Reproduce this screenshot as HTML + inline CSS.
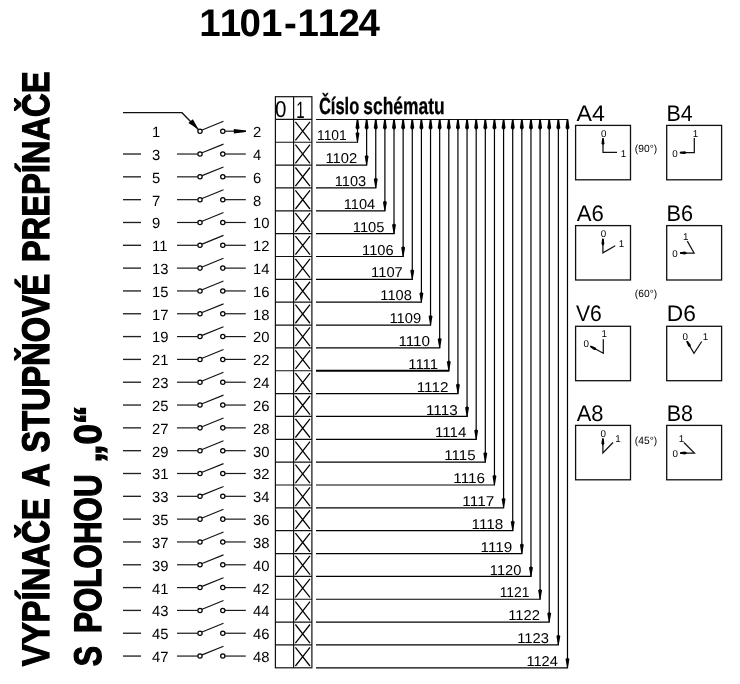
<!DOCTYPE html>
<html><head><meta charset="utf-8"><title>1101-1124</title>
<style>html,body{margin:0;padding:0;background:#fff;}body{width:740px;height:684px;overflow:hidden;}svg{display:block;will-change:transform;text-rendering:geometricPrecision;}</style>
</head><body>
<svg width="740" height="684" viewBox="0 0 740 684">
<rect width="740" height="684" fill="#fff"/>
<circle cx="200" cy="131.20" r="2.15" fill="#fff" stroke="#000" stroke-width="1.25"/>
<circle cx="222.8" cy="131.20" r="2.15" fill="#fff" stroke="#000" stroke-width="1.25"/>
<line x1="202.1" y1="130.00" x2="223.5" y2="121.30" stroke="#111" stroke-width="1.15"/>
<line x1="225" y1="131.20" x2="245.8" y2="131.20" stroke="#1a1a1a" stroke-width="1.2"/>
<text x="152" y="137.10" font-family="'Liberation Sans', sans-serif" font-size="14.8">1</text>
<text x="253" y="137.10" font-family="'Liberation Sans', sans-serif" font-size="14.8">2</text>
<line x1="123" y1="154.02" x2="141" y2="154.02" stroke="#222" stroke-width="1.35"/>
<line x1="177" y1="154.02" x2="197.7" y2="154.02" stroke="#1a1a1a" stroke-width="1.2"/>
<circle cx="200" cy="154.02" r="2.15" fill="#fff" stroke="#000" stroke-width="1.25"/>
<circle cx="222.8" cy="154.02" r="2.15" fill="#fff" stroke="#000" stroke-width="1.25"/>
<line x1="202.1" y1="152.82" x2="223.5" y2="144.12" stroke="#111" stroke-width="1.15"/>
<line x1="225" y1="154.02" x2="245.8" y2="154.02" stroke="#1a1a1a" stroke-width="1.2"/>
<text x="152" y="159.92" font-family="'Liberation Sans', sans-serif" font-size="14.8">3</text>
<text x="253" y="159.92" font-family="'Liberation Sans', sans-serif" font-size="14.8">4</text>
<line x1="123" y1="176.84" x2="141" y2="176.84" stroke="#222" stroke-width="1.35"/>
<line x1="177" y1="176.84" x2="197.7" y2="176.84" stroke="#1a1a1a" stroke-width="1.2"/>
<circle cx="200" cy="176.84" r="2.15" fill="#fff" stroke="#000" stroke-width="1.25"/>
<circle cx="222.8" cy="176.84" r="2.15" fill="#fff" stroke="#000" stroke-width="1.25"/>
<line x1="202.1" y1="175.64" x2="223.5" y2="166.94" stroke="#111" stroke-width="1.15"/>
<line x1="225" y1="176.84" x2="245.8" y2="176.84" stroke="#1a1a1a" stroke-width="1.2"/>
<text x="152" y="182.74" font-family="'Liberation Sans', sans-serif" font-size="14.8">5</text>
<text x="253" y="182.74" font-family="'Liberation Sans', sans-serif" font-size="14.8">6</text>
<line x1="123" y1="199.66" x2="141" y2="199.66" stroke="#222" stroke-width="1.35"/>
<line x1="177" y1="199.66" x2="197.7" y2="199.66" stroke="#1a1a1a" stroke-width="1.2"/>
<circle cx="200" cy="199.66" r="2.15" fill="#fff" stroke="#000" stroke-width="1.25"/>
<circle cx="222.8" cy="199.66" r="2.15" fill="#fff" stroke="#000" stroke-width="1.25"/>
<line x1="202.1" y1="198.46" x2="223.5" y2="189.76" stroke="#111" stroke-width="1.15"/>
<line x1="225" y1="199.66" x2="245.8" y2="199.66" stroke="#1a1a1a" stroke-width="1.2"/>
<text x="152" y="205.56" font-family="'Liberation Sans', sans-serif" font-size="14.8">7</text>
<text x="253" y="205.56" font-family="'Liberation Sans', sans-serif" font-size="14.8">8</text>
<line x1="123" y1="222.48" x2="141" y2="222.48" stroke="#222" stroke-width="1.35"/>
<line x1="177" y1="222.48" x2="197.7" y2="222.48" stroke="#1a1a1a" stroke-width="1.2"/>
<circle cx="200" cy="222.48" r="2.15" fill="#fff" stroke="#000" stroke-width="1.25"/>
<circle cx="222.8" cy="222.48" r="2.15" fill="#fff" stroke="#000" stroke-width="1.25"/>
<line x1="202.1" y1="221.28" x2="223.5" y2="212.58" stroke="#111" stroke-width="1.15"/>
<line x1="225" y1="222.48" x2="245.8" y2="222.48" stroke="#1a1a1a" stroke-width="1.2"/>
<text x="152" y="228.38" font-family="'Liberation Sans', sans-serif" font-size="14.8">9</text>
<text x="253" y="228.38" font-family="'Liberation Sans', sans-serif" font-size="14.8">10</text>
<line x1="123" y1="245.30" x2="141" y2="245.30" stroke="#222" stroke-width="1.35"/>
<line x1="177" y1="245.30" x2="197.7" y2="245.30" stroke="#1a1a1a" stroke-width="1.2"/>
<circle cx="200" cy="245.30" r="2.15" fill="#fff" stroke="#000" stroke-width="1.25"/>
<circle cx="222.8" cy="245.30" r="2.15" fill="#fff" stroke="#000" stroke-width="1.25"/>
<line x1="202.1" y1="244.10" x2="223.5" y2="235.40" stroke="#111" stroke-width="1.15"/>
<line x1="225" y1="245.30" x2="245.8" y2="245.30" stroke="#1a1a1a" stroke-width="1.2"/>
<text x="152" y="251.20" font-family="'Liberation Sans', sans-serif" font-size="14.8">11</text>
<text x="253" y="251.20" font-family="'Liberation Sans', sans-serif" font-size="14.8">12</text>
<line x1="123" y1="268.12" x2="141" y2="268.12" stroke="#222" stroke-width="1.35"/>
<line x1="177" y1="268.12" x2="197.7" y2="268.12" stroke="#1a1a1a" stroke-width="1.2"/>
<circle cx="200" cy="268.12" r="2.15" fill="#fff" stroke="#000" stroke-width="1.25"/>
<circle cx="222.8" cy="268.12" r="2.15" fill="#fff" stroke="#000" stroke-width="1.25"/>
<line x1="202.1" y1="266.92" x2="223.5" y2="258.22" stroke="#111" stroke-width="1.15"/>
<line x1="225" y1="268.12" x2="245.8" y2="268.12" stroke="#1a1a1a" stroke-width="1.2"/>
<text x="152" y="274.02" font-family="'Liberation Sans', sans-serif" font-size="14.8">13</text>
<text x="253" y="274.02" font-family="'Liberation Sans', sans-serif" font-size="14.8">14</text>
<line x1="123" y1="290.94" x2="141" y2="290.94" stroke="#222" stroke-width="1.35"/>
<line x1="177" y1="290.94" x2="197.7" y2="290.94" stroke="#1a1a1a" stroke-width="1.2"/>
<circle cx="200" cy="290.94" r="2.15" fill="#fff" stroke="#000" stroke-width="1.25"/>
<circle cx="222.8" cy="290.94" r="2.15" fill="#fff" stroke="#000" stroke-width="1.25"/>
<line x1="202.1" y1="289.74" x2="223.5" y2="281.04" stroke="#111" stroke-width="1.15"/>
<line x1="225" y1="290.94" x2="245.8" y2="290.94" stroke="#1a1a1a" stroke-width="1.2"/>
<text x="152" y="296.84" font-family="'Liberation Sans', sans-serif" font-size="14.8">15</text>
<text x="253" y="296.84" font-family="'Liberation Sans', sans-serif" font-size="14.8">16</text>
<line x1="123" y1="313.76" x2="141" y2="313.76" stroke="#222" stroke-width="1.35"/>
<line x1="177" y1="313.76" x2="197.7" y2="313.76" stroke="#1a1a1a" stroke-width="1.2"/>
<circle cx="200" cy="313.76" r="2.15" fill="#fff" stroke="#000" stroke-width="1.25"/>
<circle cx="222.8" cy="313.76" r="2.15" fill="#fff" stroke="#000" stroke-width="1.25"/>
<line x1="202.1" y1="312.56" x2="223.5" y2="303.86" stroke="#111" stroke-width="1.15"/>
<line x1="225" y1="313.76" x2="245.8" y2="313.76" stroke="#1a1a1a" stroke-width="1.2"/>
<text x="152" y="319.66" font-family="'Liberation Sans', sans-serif" font-size="14.8">17</text>
<text x="253" y="319.66" font-family="'Liberation Sans', sans-serif" font-size="14.8">18</text>
<line x1="123" y1="336.58" x2="141" y2="336.58" stroke="#222" stroke-width="1.35"/>
<line x1="177" y1="336.58" x2="197.7" y2="336.58" stroke="#1a1a1a" stroke-width="1.2"/>
<circle cx="200" cy="336.58" r="2.15" fill="#fff" stroke="#000" stroke-width="1.25"/>
<circle cx="222.8" cy="336.58" r="2.15" fill="#fff" stroke="#000" stroke-width="1.25"/>
<line x1="202.1" y1="335.38" x2="223.5" y2="326.68" stroke="#111" stroke-width="1.15"/>
<line x1="225" y1="336.58" x2="245.8" y2="336.58" stroke="#1a1a1a" stroke-width="1.2"/>
<text x="152" y="342.48" font-family="'Liberation Sans', sans-serif" font-size="14.8">19</text>
<text x="253" y="342.48" font-family="'Liberation Sans', sans-serif" font-size="14.8">20</text>
<line x1="123" y1="359.40" x2="141" y2="359.40" stroke="#222" stroke-width="1.35"/>
<line x1="177" y1="359.40" x2="197.7" y2="359.40" stroke="#1a1a1a" stroke-width="1.2"/>
<circle cx="200" cy="359.40" r="2.15" fill="#fff" stroke="#000" stroke-width="1.25"/>
<circle cx="222.8" cy="359.40" r="2.15" fill="#fff" stroke="#000" stroke-width="1.25"/>
<line x1="202.1" y1="358.20" x2="223.5" y2="349.50" stroke="#111" stroke-width="1.15"/>
<line x1="225" y1="359.40" x2="245.8" y2="359.40" stroke="#1a1a1a" stroke-width="1.2"/>
<text x="152" y="365.30" font-family="'Liberation Sans', sans-serif" font-size="14.8">21</text>
<text x="253" y="365.30" font-family="'Liberation Sans', sans-serif" font-size="14.8">22</text>
<line x1="123" y1="382.22" x2="141" y2="382.22" stroke="#222" stroke-width="1.35"/>
<line x1="177" y1="382.22" x2="197.7" y2="382.22" stroke="#1a1a1a" stroke-width="1.2"/>
<circle cx="200" cy="382.22" r="2.15" fill="#fff" stroke="#000" stroke-width="1.25"/>
<circle cx="222.8" cy="382.22" r="2.15" fill="#fff" stroke="#000" stroke-width="1.25"/>
<line x1="202.1" y1="381.02" x2="223.5" y2="372.32" stroke="#111" stroke-width="1.15"/>
<line x1="225" y1="382.22" x2="245.8" y2="382.22" stroke="#1a1a1a" stroke-width="1.2"/>
<text x="152" y="388.12" font-family="'Liberation Sans', sans-serif" font-size="14.8">23</text>
<text x="253" y="388.12" font-family="'Liberation Sans', sans-serif" font-size="14.8">24</text>
<line x1="123" y1="405.04" x2="141" y2="405.04" stroke="#222" stroke-width="1.35"/>
<line x1="177" y1="405.04" x2="197.7" y2="405.04" stroke="#1a1a1a" stroke-width="1.2"/>
<circle cx="200" cy="405.04" r="2.15" fill="#fff" stroke="#000" stroke-width="1.25"/>
<circle cx="222.8" cy="405.04" r="2.15" fill="#fff" stroke="#000" stroke-width="1.25"/>
<line x1="202.1" y1="403.84" x2="223.5" y2="395.14" stroke="#111" stroke-width="1.15"/>
<line x1="225" y1="405.04" x2="245.8" y2="405.04" stroke="#1a1a1a" stroke-width="1.2"/>
<text x="152" y="410.94" font-family="'Liberation Sans', sans-serif" font-size="14.8">25</text>
<text x="253" y="410.94" font-family="'Liberation Sans', sans-serif" font-size="14.8">26</text>
<line x1="123" y1="427.86" x2="141" y2="427.86" stroke="#222" stroke-width="1.35"/>
<line x1="177" y1="427.86" x2="197.7" y2="427.86" stroke="#1a1a1a" stroke-width="1.2"/>
<circle cx="200" cy="427.86" r="2.15" fill="#fff" stroke="#000" stroke-width="1.25"/>
<circle cx="222.8" cy="427.86" r="2.15" fill="#fff" stroke="#000" stroke-width="1.25"/>
<line x1="202.1" y1="426.66" x2="223.5" y2="417.96" stroke="#111" stroke-width="1.15"/>
<line x1="225" y1="427.86" x2="245.8" y2="427.86" stroke="#1a1a1a" stroke-width="1.2"/>
<text x="152" y="433.76" font-family="'Liberation Sans', sans-serif" font-size="14.8">27</text>
<text x="253" y="433.76" font-family="'Liberation Sans', sans-serif" font-size="14.8">28</text>
<line x1="123" y1="450.68" x2="141" y2="450.68" stroke="#222" stroke-width="1.35"/>
<line x1="177" y1="450.68" x2="197.7" y2="450.68" stroke="#1a1a1a" stroke-width="1.2"/>
<circle cx="200" cy="450.68" r="2.15" fill="#fff" stroke="#000" stroke-width="1.25"/>
<circle cx="222.8" cy="450.68" r="2.15" fill="#fff" stroke="#000" stroke-width="1.25"/>
<line x1="202.1" y1="449.48" x2="223.5" y2="440.78" stroke="#111" stroke-width="1.15"/>
<line x1="225" y1="450.68" x2="245.8" y2="450.68" stroke="#1a1a1a" stroke-width="1.2"/>
<text x="152" y="456.58" font-family="'Liberation Sans', sans-serif" font-size="14.8">29</text>
<text x="253" y="456.58" font-family="'Liberation Sans', sans-serif" font-size="14.8">30</text>
<line x1="123" y1="473.50" x2="141" y2="473.50" stroke="#222" stroke-width="1.35"/>
<line x1="177" y1="473.50" x2="197.7" y2="473.50" stroke="#1a1a1a" stroke-width="1.2"/>
<circle cx="200" cy="473.50" r="2.15" fill="#fff" stroke="#000" stroke-width="1.25"/>
<circle cx="222.8" cy="473.50" r="2.15" fill="#fff" stroke="#000" stroke-width="1.25"/>
<line x1="202.1" y1="472.30" x2="223.5" y2="463.60" stroke="#111" stroke-width="1.15"/>
<line x1="225" y1="473.50" x2="245.8" y2="473.50" stroke="#1a1a1a" stroke-width="1.2"/>
<text x="152" y="479.40" font-family="'Liberation Sans', sans-serif" font-size="14.8">31</text>
<text x="253" y="479.40" font-family="'Liberation Sans', sans-serif" font-size="14.8">32</text>
<line x1="123" y1="496.32" x2="141" y2="496.32" stroke="#222" stroke-width="1.35"/>
<line x1="177" y1="496.32" x2="197.7" y2="496.32" stroke="#1a1a1a" stroke-width="1.2"/>
<circle cx="200" cy="496.32" r="2.15" fill="#fff" stroke="#000" stroke-width="1.25"/>
<circle cx="222.8" cy="496.32" r="2.15" fill="#fff" stroke="#000" stroke-width="1.25"/>
<line x1="202.1" y1="495.12" x2="223.5" y2="486.42" stroke="#111" stroke-width="1.15"/>
<line x1="225" y1="496.32" x2="245.8" y2="496.32" stroke="#1a1a1a" stroke-width="1.2"/>
<text x="152" y="502.22" font-family="'Liberation Sans', sans-serif" font-size="14.8">33</text>
<text x="253" y="502.22" font-family="'Liberation Sans', sans-serif" font-size="14.8">34</text>
<line x1="123" y1="519.14" x2="141" y2="519.14" stroke="#222" stroke-width="1.35"/>
<line x1="177" y1="519.14" x2="197.7" y2="519.14" stroke="#1a1a1a" stroke-width="1.2"/>
<circle cx="200" cy="519.14" r="2.15" fill="#fff" stroke="#000" stroke-width="1.25"/>
<circle cx="222.8" cy="519.14" r="2.15" fill="#fff" stroke="#000" stroke-width="1.25"/>
<line x1="202.1" y1="517.94" x2="223.5" y2="509.24" stroke="#111" stroke-width="1.15"/>
<line x1="225" y1="519.14" x2="245.8" y2="519.14" stroke="#1a1a1a" stroke-width="1.2"/>
<text x="152" y="525.04" font-family="'Liberation Sans', sans-serif" font-size="14.8">35</text>
<text x="253" y="525.04" font-family="'Liberation Sans', sans-serif" font-size="14.8">36</text>
<line x1="123" y1="541.96" x2="141" y2="541.96" stroke="#222" stroke-width="1.35"/>
<line x1="177" y1="541.96" x2="197.7" y2="541.96" stroke="#1a1a1a" stroke-width="1.2"/>
<circle cx="200" cy="541.96" r="2.15" fill="#fff" stroke="#000" stroke-width="1.25"/>
<circle cx="222.8" cy="541.96" r="2.15" fill="#fff" stroke="#000" stroke-width="1.25"/>
<line x1="202.1" y1="540.76" x2="223.5" y2="532.06" stroke="#111" stroke-width="1.15"/>
<line x1="225" y1="541.96" x2="245.8" y2="541.96" stroke="#1a1a1a" stroke-width="1.2"/>
<text x="152" y="547.86" font-family="'Liberation Sans', sans-serif" font-size="14.8">37</text>
<text x="253" y="547.86" font-family="'Liberation Sans', sans-serif" font-size="14.8">38</text>
<line x1="123" y1="564.78" x2="141" y2="564.78" stroke="#222" stroke-width="1.35"/>
<line x1="177" y1="564.78" x2="197.7" y2="564.78" stroke="#1a1a1a" stroke-width="1.2"/>
<circle cx="200" cy="564.78" r="2.15" fill="#fff" stroke="#000" stroke-width="1.25"/>
<circle cx="222.8" cy="564.78" r="2.15" fill="#fff" stroke="#000" stroke-width="1.25"/>
<line x1="202.1" y1="563.58" x2="223.5" y2="554.88" stroke="#111" stroke-width="1.15"/>
<line x1="225" y1="564.78" x2="245.8" y2="564.78" stroke="#1a1a1a" stroke-width="1.2"/>
<text x="152" y="570.68" font-family="'Liberation Sans', sans-serif" font-size="14.8">39</text>
<text x="253" y="570.68" font-family="'Liberation Sans', sans-serif" font-size="14.8">40</text>
<line x1="123" y1="587.60" x2="141" y2="587.60" stroke="#222" stroke-width="1.35"/>
<line x1="177" y1="587.60" x2="197.7" y2="587.60" stroke="#1a1a1a" stroke-width="1.2"/>
<circle cx="200" cy="587.60" r="2.15" fill="#fff" stroke="#000" stroke-width="1.25"/>
<circle cx="222.8" cy="587.60" r="2.15" fill="#fff" stroke="#000" stroke-width="1.25"/>
<line x1="202.1" y1="586.40" x2="223.5" y2="577.70" stroke="#111" stroke-width="1.15"/>
<line x1="225" y1="587.60" x2="245.8" y2="587.60" stroke="#1a1a1a" stroke-width="1.2"/>
<text x="152" y="593.50" font-family="'Liberation Sans', sans-serif" font-size="14.8">41</text>
<text x="253" y="593.50" font-family="'Liberation Sans', sans-serif" font-size="14.8">42</text>
<line x1="123" y1="610.42" x2="141" y2="610.42" stroke="#222" stroke-width="1.35"/>
<line x1="177" y1="610.42" x2="197.7" y2="610.42" stroke="#1a1a1a" stroke-width="1.2"/>
<circle cx="200" cy="610.42" r="2.15" fill="#fff" stroke="#000" stroke-width="1.25"/>
<circle cx="222.8" cy="610.42" r="2.15" fill="#fff" stroke="#000" stroke-width="1.25"/>
<line x1="202.1" y1="609.22" x2="223.5" y2="600.52" stroke="#111" stroke-width="1.15"/>
<line x1="225" y1="610.42" x2="245.8" y2="610.42" stroke="#1a1a1a" stroke-width="1.2"/>
<text x="152" y="616.32" font-family="'Liberation Sans', sans-serif" font-size="14.8">43</text>
<text x="253" y="616.32" font-family="'Liberation Sans', sans-serif" font-size="14.8">44</text>
<line x1="123" y1="633.24" x2="141" y2="633.24" stroke="#222" stroke-width="1.35"/>
<line x1="177" y1="633.24" x2="197.7" y2="633.24" stroke="#1a1a1a" stroke-width="1.2"/>
<circle cx="200" cy="633.24" r="2.15" fill="#fff" stroke="#000" stroke-width="1.25"/>
<circle cx="222.8" cy="633.24" r="2.15" fill="#fff" stroke="#000" stroke-width="1.25"/>
<line x1="202.1" y1="632.04" x2="223.5" y2="623.34" stroke="#111" stroke-width="1.15"/>
<line x1="225" y1="633.24" x2="245.8" y2="633.24" stroke="#1a1a1a" stroke-width="1.2"/>
<text x="152" y="639.14" font-family="'Liberation Sans', sans-serif" font-size="14.8">45</text>
<text x="253" y="639.14" font-family="'Liberation Sans', sans-serif" font-size="14.8">46</text>
<line x1="123" y1="656.06" x2="141" y2="656.06" stroke="#222" stroke-width="1.35"/>
<line x1="177" y1="656.06" x2="197.7" y2="656.06" stroke="#1a1a1a" stroke-width="1.2"/>
<circle cx="200" cy="656.06" r="2.15" fill="#fff" stroke="#000" stroke-width="1.25"/>
<circle cx="222.8" cy="656.06" r="2.15" fill="#fff" stroke="#000" stroke-width="1.25"/>
<line x1="202.1" y1="654.86" x2="223.5" y2="646.16" stroke="#111" stroke-width="1.15"/>
<line x1="225" y1="656.06" x2="245.8" y2="656.06" stroke="#1a1a1a" stroke-width="1.2"/>
<text x="152" y="661.96" font-family="'Liberation Sans', sans-serif" font-size="14.8">47</text>
<text x="253" y="661.96" font-family="'Liberation Sans', sans-serif" font-size="14.8">48</text>
<polyline points="123,112.7 182,112.7 198.3,129.5" fill="none" stroke="#111" stroke-width="1.3"/>
<polygon points="198.6,129.6 188.4,123.0 192.8,119.3" fill="#000"/>
<polygon points="233.8,128.9 245.9,130.4 245.9,132.0 233.8,133.5" fill="#000"/>
<rect x="275.4" y="96.7" width="36.50" height="571.10" fill="none" stroke="#111" stroke-width="1.2"/>
<line x1="293.6" y1="96.7" x2="293.6" y2="667.80" stroke="#111" stroke-width="1.2"/>
<line x1="275.4" y1="119.40" x2="311.9" y2="119.40" stroke="#111" stroke-width="1.2"/>
<path d="M295.4 121.80 L310 140.45 M310 121.80 L295.4 140.45" stroke="#000" stroke-width="1.25" fill="none"/>
<line x1="275.4" y1="142.25" x2="311.9" y2="142.25" stroke="#111" stroke-width="1.2"/>
<path d="M295.4 144.65 L310 163.30 M310 144.65 L295.4 163.30" stroke="#000" stroke-width="1.25" fill="none"/>
<line x1="275.4" y1="165.10" x2="311.9" y2="165.10" stroke="#111" stroke-width="1.2"/>
<path d="M295.4 167.50 L310 186.15 M310 167.50 L295.4 186.15" stroke="#000" stroke-width="1.25" fill="none"/>
<line x1="275.4" y1="187.95" x2="311.9" y2="187.95" stroke="#111" stroke-width="1.2"/>
<path d="M295.4 190.35 L310 209.00 M310 190.35 L295.4 209.00" stroke="#000" stroke-width="1.25" fill="none"/>
<line x1="275.4" y1="210.80" x2="311.9" y2="210.80" stroke="#111" stroke-width="1.2"/>
<path d="M295.4 213.20 L310 231.85 M310 213.20 L295.4 231.85" stroke="#000" stroke-width="1.25" fill="none"/>
<line x1="275.4" y1="233.65" x2="311.9" y2="233.65" stroke="#111" stroke-width="1.2"/>
<path d="M295.4 236.05 L310 254.70 M310 236.05 L295.4 254.70" stroke="#000" stroke-width="1.25" fill="none"/>
<line x1="275.4" y1="256.50" x2="311.9" y2="256.50" stroke="#111" stroke-width="1.2"/>
<path d="M295.4 258.90 L310 277.55 M310 258.90 L295.4 277.55" stroke="#000" stroke-width="1.25" fill="none"/>
<line x1="275.4" y1="279.35" x2="311.9" y2="279.35" stroke="#111" stroke-width="1.2"/>
<path d="M295.4 281.75 L310 300.40 M310 281.75 L295.4 300.40" stroke="#000" stroke-width="1.25" fill="none"/>
<line x1="275.4" y1="302.20" x2="311.9" y2="302.20" stroke="#111" stroke-width="1.2"/>
<path d="M295.4 304.60 L310 323.25 M310 304.60 L295.4 323.25" stroke="#000" stroke-width="1.25" fill="none"/>
<line x1="275.4" y1="325.05" x2="311.9" y2="325.05" stroke="#111" stroke-width="1.2"/>
<path d="M295.4 327.45 L310 346.10 M310 327.45 L295.4 346.10" stroke="#000" stroke-width="1.25" fill="none"/>
<line x1="275.4" y1="347.90" x2="311.9" y2="347.90" stroke="#111" stroke-width="1.2"/>
<path d="M295.4 350.30 L310 368.95 M310 350.30 L295.4 368.95" stroke="#000" stroke-width="1.25" fill="none"/>
<line x1="275.4" y1="370.75" x2="311.9" y2="370.75" stroke="#111" stroke-width="1.2"/>
<path d="M295.4 373.15 L310 391.80 M310 373.15 L295.4 391.80" stroke="#000" stroke-width="1.25" fill="none"/>
<line x1="275.4" y1="393.60" x2="311.9" y2="393.60" stroke="#111" stroke-width="1.2"/>
<path d="M295.4 396.00 L310 414.65 M310 396.00 L295.4 414.65" stroke="#000" stroke-width="1.25" fill="none"/>
<line x1="275.4" y1="416.45" x2="311.9" y2="416.45" stroke="#111" stroke-width="1.2"/>
<path d="M295.4 418.85 L310 437.50 M310 418.85 L295.4 437.50" stroke="#000" stroke-width="1.25" fill="none"/>
<line x1="275.4" y1="439.30" x2="311.9" y2="439.30" stroke="#111" stroke-width="1.2"/>
<path d="M295.4 441.70 L310 460.35 M310 441.70 L295.4 460.35" stroke="#000" stroke-width="1.25" fill="none"/>
<line x1="275.4" y1="462.15" x2="311.9" y2="462.15" stroke="#111" stroke-width="1.2"/>
<path d="M295.4 464.55 L310 483.20 M310 464.55 L295.4 483.20" stroke="#000" stroke-width="1.25" fill="none"/>
<line x1="275.4" y1="485.00" x2="311.9" y2="485.00" stroke="#111" stroke-width="1.2"/>
<path d="M295.4 487.40 L310 506.05 M310 487.40 L295.4 506.05" stroke="#000" stroke-width="1.25" fill="none"/>
<line x1="275.4" y1="507.85" x2="311.9" y2="507.85" stroke="#111" stroke-width="1.2"/>
<path d="M295.4 510.25 L310 528.90 M310 510.25 L295.4 528.90" stroke="#000" stroke-width="1.25" fill="none"/>
<line x1="275.4" y1="530.70" x2="311.9" y2="530.70" stroke="#111" stroke-width="1.2"/>
<path d="M295.4 533.10 L310 551.75 M310 533.10 L295.4 551.75" stroke="#000" stroke-width="1.25" fill="none"/>
<line x1="275.4" y1="553.55" x2="311.9" y2="553.55" stroke="#111" stroke-width="1.2"/>
<path d="M295.4 555.95 L310 574.60 M310 555.95 L295.4 574.60" stroke="#000" stroke-width="1.25" fill="none"/>
<line x1="275.4" y1="576.40" x2="311.9" y2="576.40" stroke="#111" stroke-width="1.2"/>
<path d="M295.4 578.80 L310 597.45 M310 578.80 L295.4 597.45" stroke="#000" stroke-width="1.25" fill="none"/>
<line x1="275.4" y1="599.25" x2="311.9" y2="599.25" stroke="#111" stroke-width="1.2"/>
<path d="M295.4 601.65 L310 620.30 M310 601.65 L295.4 620.30" stroke="#000" stroke-width="1.25" fill="none"/>
<line x1="275.4" y1="622.10" x2="311.9" y2="622.10" stroke="#111" stroke-width="1.2"/>
<path d="M295.4 624.50 L310 643.15 M310 624.50 L295.4 643.15" stroke="#000" stroke-width="1.25" fill="none"/>
<line x1="275.4" y1="644.95" x2="311.9" y2="644.95" stroke="#111" stroke-width="1.2"/>
<path d="M295.4 647.35 L310 666.00 M310 647.35 L295.4 666.00" stroke="#000" stroke-width="1.25" fill="none"/>
<line x1="316" y1="119.5" x2="568.2" y2="119.5" stroke="#111" stroke-width="1.1"/>
<line x1="316" y1="142.25" x2="358.10" y2="142.25" stroke="#000" stroke-width="1.2"/>
<line x1="357.50" y1="142.25" x2="357.50" y2="119.5" stroke="#000" stroke-width="1.2"/>
<polygon points="356.70,119.7 358.30,119.7 359.50,127.9 358.10,129.5 356.90,129.5 355.50,127.9" fill="#000"/>
<polygon points="357.10,142.25 357.90,142.25 359.45,133.35 358.10,132.35 356.90,132.35 355.55,133.35" fill="#000"/>
<line x1="316" y1="165.10" x2="367.23" y2="165.10" stroke="#000" stroke-width="1.2"/>
<line x1="366.63" y1="165.10" x2="366.63" y2="119.5" stroke="#000" stroke-width="1.2"/>
<polygon points="365.83,119.7 367.43,119.7 368.63,127.9 367.23,129.5 366.03,129.5 364.63,127.9" fill="#000"/>
<polygon points="366.23,165.10 367.03,165.10 368.58,156.20 367.23,155.20 366.03,155.20 364.68,156.20" fill="#000"/>
<line x1="316" y1="187.95" x2="376.36" y2="187.95" stroke="#000" stroke-width="1.2"/>
<line x1="375.76" y1="187.95" x2="375.76" y2="119.5" stroke="#000" stroke-width="1.2"/>
<polygon points="374.96,119.7 376.56,119.7 377.76,127.9 376.36,129.5 375.16,129.5 373.76,127.9" fill="#000"/>
<polygon points="375.36,187.95 376.16,187.95 377.71,179.05 376.36,178.05 375.16,178.05 373.81,179.05" fill="#000"/>
<line x1="316" y1="210.80" x2="385.49" y2="210.80" stroke="#000" stroke-width="1.2"/>
<line x1="384.89" y1="210.80" x2="384.89" y2="119.5" stroke="#000" stroke-width="1.2"/>
<polygon points="384.09,119.7 385.69,119.7 386.89,127.9 385.49,129.5 384.29,129.5 382.89,127.9" fill="#000"/>
<polygon points="384.49,210.80 385.29,210.80 386.84,201.90 385.49,200.90 384.29,200.90 382.94,201.90" fill="#000"/>
<line x1="316" y1="233.65" x2="394.62" y2="233.65" stroke="#000" stroke-width="1.2"/>
<line x1="394.02" y1="233.65" x2="394.02" y2="119.5" stroke="#000" stroke-width="1.2"/>
<polygon points="393.22,119.7 394.82,119.7 396.02,127.9 394.62,129.5 393.42,129.5 392.02,127.9" fill="#000"/>
<polygon points="393.62,233.65 394.42,233.65 395.97,224.75 394.62,223.75 393.42,223.75 392.07,224.75" fill="#000"/>
<line x1="316" y1="256.50" x2="403.75" y2="256.50" stroke="#000" stroke-width="1.2"/>
<line x1="403.15" y1="256.50" x2="403.15" y2="119.5" stroke="#000" stroke-width="1.2"/>
<polygon points="402.35,119.7 403.95,119.7 405.15,127.9 403.75,129.5 402.55,129.5 401.15,127.9" fill="#000"/>
<polygon points="402.75,256.50 403.55,256.50 405.10,247.60 403.75,246.60 402.55,246.60 401.20,247.60" fill="#000"/>
<line x1="316" y1="279.35" x2="412.88" y2="279.35" stroke="#000" stroke-width="1.2"/>
<line x1="412.28" y1="279.35" x2="412.28" y2="119.5" stroke="#000" stroke-width="1.2"/>
<polygon points="411.48,119.7 413.08,119.7 414.28,127.9 412.88,129.5 411.68,129.5 410.28,127.9" fill="#000"/>
<polygon points="411.88,279.35 412.68,279.35 414.23,270.45 412.88,269.45 411.68,269.45 410.33,270.45" fill="#000"/>
<line x1="316" y1="302.20" x2="422.01" y2="302.20" stroke="#000" stroke-width="1.2"/>
<line x1="421.41" y1="302.20" x2="421.41" y2="119.5" stroke="#000" stroke-width="1.2"/>
<polygon points="420.61,119.7 422.21,119.7 423.41,127.9 422.01,129.5 420.81,129.5 419.41,127.9" fill="#000"/>
<polygon points="421.01,302.20 421.81,302.20 423.36,293.30 422.01,292.30 420.81,292.30 419.46,293.30" fill="#000"/>
<line x1="316" y1="325.05" x2="431.14" y2="325.05" stroke="#000" stroke-width="1.2"/>
<line x1="430.54" y1="325.05" x2="430.54" y2="119.5" stroke="#000" stroke-width="1.2"/>
<polygon points="429.74,119.7 431.34,119.7 432.54,127.9 431.14,129.5 429.94,129.5 428.54,127.9" fill="#000"/>
<polygon points="430.14,325.05 430.94,325.05 432.49,316.15 431.14,315.15 429.94,315.15 428.59,316.15" fill="#000"/>
<line x1="316" y1="347.90" x2="440.27" y2="347.90" stroke="#000" stroke-width="1.2"/>
<line x1="439.67" y1="347.90" x2="439.67" y2="119.5" stroke="#000" stroke-width="1.2"/>
<polygon points="438.87,119.7 440.47,119.7 441.67,127.9 440.27,129.5 439.07,129.5 437.67,127.9" fill="#000"/>
<polygon points="439.27,347.90 440.07,347.90 441.62,339.00 440.27,338.00 439.07,338.00 437.72,339.00" fill="#000"/>
<line x1="316" y1="370.75" x2="449.40" y2="370.75" stroke="#000" stroke-width="2.0"/>
<line x1="448.80" y1="370.75" x2="448.80" y2="119.5" stroke="#000" stroke-width="1.2"/>
<polygon points="448.00,119.7 449.60,119.7 450.80,127.9 449.40,129.5 448.20,129.5 446.80,127.9" fill="#000"/>
<polygon points="448.40,370.75 449.20,370.75 450.75,361.85 449.40,360.85 448.20,360.85 446.85,361.85" fill="#000"/>
<line x1="316" y1="393.60" x2="458.53" y2="393.60" stroke="#000" stroke-width="1.2"/>
<line x1="457.93" y1="393.60" x2="457.93" y2="119.5" stroke="#000" stroke-width="1.2"/>
<polygon points="457.13,119.7 458.73,119.7 459.93,127.9 458.53,129.5 457.33,129.5 455.93,127.9" fill="#000"/>
<polygon points="457.53,393.60 458.33,393.60 459.88,384.70 458.53,383.70 457.33,383.70 455.98,384.70" fill="#000"/>
<line x1="316" y1="416.45" x2="467.66" y2="416.45" stroke="#000" stroke-width="1.2"/>
<line x1="467.06" y1="416.45" x2="467.06" y2="119.5" stroke="#000" stroke-width="1.2"/>
<polygon points="466.26,119.7 467.86,119.7 469.06,127.9 467.66,129.5 466.46,129.5 465.06,127.9" fill="#000"/>
<polygon points="466.66,416.45 467.46,416.45 469.01,407.55 467.66,406.55 466.46,406.55 465.11,407.55" fill="#000"/>
<line x1="316" y1="439.30" x2="476.79" y2="439.30" stroke="#000" stroke-width="1.2"/>
<line x1="476.19" y1="439.30" x2="476.19" y2="119.5" stroke="#000" stroke-width="1.2"/>
<polygon points="475.39,119.7 476.99,119.7 478.19,127.9 476.79,129.5 475.59,129.5 474.19,127.9" fill="#000"/>
<polygon points="475.79,439.30 476.59,439.30 478.14,430.40 476.79,429.40 475.59,429.40 474.24,430.40" fill="#000"/>
<line x1="316" y1="462.15" x2="485.92" y2="462.15" stroke="#000" stroke-width="1.2"/>
<line x1="485.32" y1="462.15" x2="485.32" y2="119.5" stroke="#000" stroke-width="1.2"/>
<polygon points="484.52,119.7 486.12,119.7 487.32,127.9 485.92,129.5 484.72,129.5 483.32,127.9" fill="#000"/>
<polygon points="484.92,462.15 485.72,462.15 487.27,453.25 485.92,452.25 484.72,452.25 483.37,453.25" fill="#000"/>
<line x1="316" y1="485.00" x2="495.05" y2="485.00" stroke="#000" stroke-width="1.2"/>
<line x1="494.45" y1="485.00" x2="494.45" y2="119.5" stroke="#000" stroke-width="1.2"/>
<polygon points="493.65,119.7 495.25,119.7 496.45,127.9 495.05,129.5 493.85,129.5 492.45,127.9" fill="#000"/>
<polygon points="494.05,485.00 494.85,485.00 496.40,476.10 495.05,475.10 493.85,475.10 492.50,476.10" fill="#000"/>
<line x1="316" y1="507.85" x2="504.18" y2="507.85" stroke="#000" stroke-width="1.2"/>
<line x1="503.58" y1="507.85" x2="503.58" y2="119.5" stroke="#000" stroke-width="1.2"/>
<polygon points="502.78,119.7 504.38,119.7 505.58,127.9 504.18,129.5 502.98,129.5 501.58,127.9" fill="#000"/>
<polygon points="503.18,507.85 503.98,507.85 505.53,498.95 504.18,497.95 502.98,497.95 501.63,498.95" fill="#000"/>
<line x1="316" y1="530.70" x2="513.31" y2="530.70" stroke="#000" stroke-width="1.2"/>
<line x1="512.71" y1="530.70" x2="512.71" y2="119.5" stroke="#000" stroke-width="1.2"/>
<polygon points="511.91,119.7 513.51,119.7 514.71,127.9 513.31,129.5 512.11,129.5 510.71,127.9" fill="#000"/>
<polygon points="512.31,530.70 513.11,530.70 514.66,521.80 513.31,520.80 512.11,520.80 510.76,521.80" fill="#000"/>
<line x1="316" y1="553.55" x2="522.44" y2="553.55" stroke="#000" stroke-width="1.2"/>
<line x1="521.84" y1="553.55" x2="521.84" y2="119.5" stroke="#000" stroke-width="1.2"/>
<polygon points="521.04,119.7 522.64,119.7 523.84,127.9 522.44,129.5 521.24,129.5 519.84,127.9" fill="#000"/>
<polygon points="521.44,553.55 522.24,553.55 523.79,544.65 522.44,543.65 521.24,543.65 519.89,544.65" fill="#000"/>
<line x1="316" y1="576.40" x2="531.57" y2="576.40" stroke="#000" stroke-width="1.2"/>
<line x1="530.97" y1="576.40" x2="530.97" y2="119.5" stroke="#000" stroke-width="1.2"/>
<polygon points="530.17,119.7 531.77,119.7 532.97,127.9 531.57,129.5 530.37,129.5 528.97,127.9" fill="#000"/>
<polygon points="530.57,576.40 531.37,576.40 532.92,567.50 531.57,566.50 530.37,566.50 529.02,567.50" fill="#000"/>
<line x1="316" y1="599.25" x2="540.70" y2="599.25" stroke="#000" stroke-width="1.2"/>
<line x1="540.10" y1="599.25" x2="540.10" y2="119.5" stroke="#000" stroke-width="1.2"/>
<polygon points="539.30,119.7 540.90,119.7 542.10,127.9 540.70,129.5 539.50,129.5 538.10,127.9" fill="#000"/>
<polygon points="539.70,599.25 540.50,599.25 542.05,590.35 540.70,589.35 539.50,589.35 538.15,590.35" fill="#000"/>
<line x1="316" y1="622.10" x2="549.83" y2="622.10" stroke="#000" stroke-width="1.2"/>
<line x1="549.23" y1="622.10" x2="549.23" y2="119.5" stroke="#000" stroke-width="1.2"/>
<polygon points="548.43,119.7 550.03,119.7 551.23,127.9 549.83,129.5 548.63,129.5 547.23,127.9" fill="#000"/>
<polygon points="548.83,622.10 549.63,622.10 551.18,613.20 549.83,612.20 548.63,612.20 547.28,613.20" fill="#000"/>
<line x1="316" y1="644.95" x2="558.96" y2="644.95" stroke="#000" stroke-width="1.2"/>
<line x1="558.36" y1="644.95" x2="558.36" y2="119.5" stroke="#000" stroke-width="1.2"/>
<polygon points="557.56,119.7 559.16,119.7 560.36,127.9 558.96,129.5 557.76,129.5 556.36,127.9" fill="#000"/>
<polygon points="557.96,644.95 558.76,644.95 560.31,636.05 558.96,635.05 557.76,635.05 556.41,636.05" fill="#000"/>
<line x1="316" y1="667.80" x2="568.09" y2="667.80" stroke="#000" stroke-width="1.2"/>
<line x1="567.49" y1="667.80" x2="567.49" y2="119.5" stroke="#000" stroke-width="1.2"/>
<polygon points="566.69,119.7 568.29,119.7 569.49,127.9 568.09,129.5 566.89,129.5 565.49,127.9" fill="#000"/>
<polygon points="567.09,667.80 567.89,667.80 569.44,658.90 568.09,657.90 566.89,657.90 565.54,658.90" fill="#000"/>
<rect x="575.6" y="125.4" width="54.9" height="54.4" fill="none" stroke="#111" stroke-width="1.3"/>
<rect x="666.7" y="125.4" width="54.9" height="54.4" fill="none" stroke="#111" stroke-width="1.3"/>
<rect x="575.6" y="225.6" width="54.9" height="54.4" fill="none" stroke="#111" stroke-width="1.3"/>
<rect x="666.7" y="225.6" width="54.9" height="54.4" fill="none" stroke="#111" stroke-width="1.3"/>
<rect x="575.6" y="326.3" width="54.9" height="54.4" fill="none" stroke="#111" stroke-width="1.3"/>
<rect x="666.7" y="326.3" width="54.9" height="54.4" fill="none" stroke="#111" stroke-width="1.3"/>
<rect x="575.6" y="425.4" width="54.9" height="54.4" fill="none" stroke="#111" stroke-width="1.3"/>
<rect x="666.7" y="425.4" width="54.9" height="54.4" fill="none" stroke="#111" stroke-width="1.3"/>
<polyline points="603,138.2 603,152.4 617,152.4" fill="none" stroke="#111" stroke-width="1.25" stroke-linejoin="miter"/>
<polygon points="603.80,138.20 604.45,143.20 603.00,145.40 601.55,143.20 602.20,138.20" fill="#000"/>
<polyline points="679.9,152.6 694.3,152.6 694.3,137.9" fill="none" stroke="#111" stroke-width="1.25" stroke-linejoin="miter"/>
<polygon points="679.90,151.80 684.90,151.15 687.10,152.60 684.90,154.05 679.90,153.40" fill="#000"/>
<polyline points="602.9,238.7 602.9,252.9 615.2,245.8" fill="none" stroke="#111" stroke-width="1.25" stroke-linejoin="miter"/>
<polygon points="603.70,238.70 604.35,243.70 602.90,245.90 601.45,243.70 602.10,238.70" fill="#000"/>
<polyline points="680,253 694.1,253 687.3,241.1" fill="none" stroke="#111" stroke-width="1.25" stroke-linejoin="miter"/>
<polygon points="680.00,252.20 685.00,251.55 687.20,253.00 685.00,254.45 680.00,253.80" fill="#000"/>
<polyline points="590.4,346.3 603.3,353.3 603.3,339.2" fill="none" stroke="#111" stroke-width="1.25" stroke-linejoin="miter"/>
<polygon points="590.78,345.60 595.49,347.41 596.73,349.73 594.10,349.96 590.02,347.00" fill="#000"/>
<polyline points="686.9,341.2 694,353.3 701.7,341.5" fill="none" stroke="#111" stroke-width="1.25" stroke-linejoin="miter"/>
<polygon points="687.59,340.80 690.68,344.78 690.54,347.41 688.18,346.25 686.21,341.60" fill="#000"/>
<polyline points="602.9,438.6 602.9,453 613,442.5" fill="none" stroke="#111" stroke-width="1.25" stroke-linejoin="miter"/>
<polygon points="603.70,438.60 604.35,443.60 602.90,445.80 601.45,443.60 602.10,438.60" fill="#000"/>
<polyline points="680.1,453 694.4,453 683.9,442.5" fill="none" stroke="#111" stroke-width="1.25" stroke-linejoin="miter"/>
<polygon points="680.10,452.20 685.10,451.55 687.30,453.00 685.10,454.45 680.10,453.80" fill="#000"/>
<text x="600.92" y="136.65" font-family="'Liberation Sans', sans-serif" font-size="9.8">0</text>
<text x="620.64" y="156.5" font-family="'Liberation Sans', sans-serif" font-size="9.8">1</text>
<text x="692.69" y="136.6" font-family="'Liberation Sans', sans-serif" font-size="9.8">1</text>
<text x="672.22" y="156.5" font-family="'Liberation Sans', sans-serif" font-size="9.8">0</text>
<text x="600.87" y="236.9" font-family="'Liberation Sans', sans-serif" font-size="9.8">0</text>
<text x="618.64" y="246.7" font-family="'Liberation Sans', sans-serif" font-size="9.8">1</text>
<text x="683.09" y="240.2" font-family="'Liberation Sans', sans-serif" font-size="9.8">1</text>
<text x="672.27" y="257.1" font-family="'Liberation Sans', sans-serif" font-size="9.8">0</text>
<text x="601.49" y="337.3" font-family="'Liberation Sans', sans-serif" font-size="9.8">1</text>
<text x="583.6" y="347.4" font-family="'Liberation Sans', sans-serif" font-size="9.8">0</text>
<text x="682.42" y="340.4" font-family="'Liberation Sans', sans-serif" font-size="9.8">0</text>
<text x="702.64" y="340.3" font-family="'Liberation Sans', sans-serif" font-size="9.8">1</text>
<text x="600.57" y="436.6" font-family="'Liberation Sans', sans-serif" font-size="9.8">0</text>
<text x="615.29" y="442.4" font-family="'Liberation Sans', sans-serif" font-size="9.8">1</text>
<text x="678.64" y="442.4" font-family="'Liberation Sans', sans-serif" font-size="9.8">1</text>
<text x="672.57" y="456.7" font-family="'Liberation Sans', sans-serif" font-size="9.8">0</text>
<text transform="translate(49.150,666.250) rotate(-90)" font-family="'Liberation Sans', sans-serif" font-weight="bold" font-size="38.400" stroke="#000" stroke-width="1.3" textLength="168.047" lengthAdjust="spacingAndGlyphs">VYPÍNAČE</text>
<text transform="translate(49.150,486.750) rotate(-90)" font-family="'Liberation Sans', sans-serif" font-weight="bold" font-size="38.400" stroke="#000" stroke-width="1.3" textLength="23.203" lengthAdjust="spacingAndGlyphs">A</text>
<text transform="translate(49.150,452.500) rotate(-90)" font-family="'Liberation Sans', sans-serif" font-weight="bold" font-size="38.400" stroke="#000" stroke-width="1.3" textLength="178.805" lengthAdjust="spacingAndGlyphs">STUPŇOVÉ</text>
<text transform="translate(49.150,262.250) rotate(-90)" font-family="'Liberation Sans', sans-serif" font-weight="bold" font-size="38.400" stroke="#000" stroke-width="1.3" textLength="190.737" lengthAdjust="spacingAndGlyphs">PREPÍNAČE</text>
<text transform="translate(100.550,666.250) rotate(-90)" font-family="'Liberation Sans', sans-serif" font-weight="bold" font-size="38.400" stroke="#000" stroke-width="1.3" textLength="20.267" lengthAdjust="spacingAndGlyphs">S</text>
<text transform="translate(100.550,633.000) rotate(-90)" font-family="'Liberation Sans', sans-serif" font-weight="bold" font-size="38.400" stroke="#000" stroke-width="1.3" textLength="158.714" lengthAdjust="spacingAndGlyphs">POLOHOU</text>
<text transform="translate(100.550,462.750) rotate(-90)" font-family="'Liberation Sans', sans-serif" font-weight="bold" font-size="38.400" stroke="#000" stroke-width="1.3" textLength="57.176" lengthAdjust="spacingAndGlyphs">„0“</text>
<text x="318.900" y="113.600" font-family="'Liberation Sans', sans-serif" font-weight="bold" font-size="23.500" stroke="#000" stroke-width="0.3" textLength="40.364" lengthAdjust="spacingAndGlyphs">Číslo</text>
<text x="363.350" y="113.600" font-family="'Liberation Sans', sans-serif" font-weight="bold" font-size="23.500" stroke="#000" stroke-width="0.3" textLength="81.287" lengthAdjust="spacingAndGlyphs">schématu</text>
<text x="274.950" y="117.400" font-family="'Liberation Sans', sans-serif" font-weight="normal" font-size="22.968" textLength="11.427" lengthAdjust="spacingAndGlyphs">0</text>
<text x="296.350" y="117.650" font-family="'Liberation Sans', sans-serif" font-weight="normal" font-size="23.675" textLength="8.357" lengthAdjust="spacingAndGlyphs">1</text>
<text x="634.850" y="297.400" font-family="'Liberation Sans', sans-serif" font-weight="normal" font-size="10.464" textLength="22.316" lengthAdjust="spacingAndGlyphs">(60°)</text>
<text x="576.500" y="120.500" font-family="'Liberation Sans', sans-serif" font-weight="normal" font-size="22.500" textLength="28.265" lengthAdjust="spacingAndGlyphs">A4</text>
<text x="666.500" y="120.500" font-family="'Liberation Sans', sans-serif" font-weight="normal" font-size="22.500" textLength="26.237" lengthAdjust="spacingAndGlyphs">B4</text>
<text x="576.750" y="220.800" font-family="'Liberation Sans', sans-serif" font-weight="normal" font-size="22.500" textLength="27.054" lengthAdjust="spacingAndGlyphs">A6</text>
<text x="666.500" y="220.800" font-family="'Liberation Sans', sans-serif" font-weight="normal" font-size="22.500" textLength="26.545" lengthAdjust="spacingAndGlyphs">B6</text>
<text x="576.000" y="321.400" font-family="'Liberation Sans', sans-serif" font-weight="normal" font-size="22.500" textLength="25.804" lengthAdjust="spacingAndGlyphs">V6</text>
<text x="666.750" y="321.400" font-family="'Liberation Sans', sans-serif" font-weight="normal" font-size="22.500" textLength="29.047" lengthAdjust="spacingAndGlyphs">D6</text>
<text x="576.750" y="421.000" font-family="'Liberation Sans', sans-serif" font-weight="normal" font-size="22.500" textLength="26.794" lengthAdjust="spacingAndGlyphs">A8</text>
<text x="666.750" y="421.000" font-family="'Liberation Sans', sans-serif" font-weight="normal" font-size="22.500" textLength="26.299" lengthAdjust="spacingAndGlyphs">B8</text>
<text x="199.17 219.87 239.52 260.97 284.01 297.57 317.87 338.60 358.56" y="36.25" font-family="'Liberation Sans', sans-serif" font-weight="bold" font-size="38.5">1101-1124</text>
<text x="317.000" y="140.350" font-family="'Liberation Sans', sans-serif" font-weight="normal" font-size="14.200" textLength="29.729" lengthAdjust="spacingAndGlyphs">1101</text>
<text x="325.520" y="163.200" font-family="'Liberation Sans', sans-serif" font-weight="normal" font-size="14.200" textLength="31.689" lengthAdjust="spacingAndGlyphs">1102</text>
<text x="334.790" y="186.050" font-family="'Liberation Sans', sans-serif" font-weight="normal" font-size="14.200" textLength="31.421" lengthAdjust="spacingAndGlyphs">1103</text>
<text x="343.810" y="208.900" font-family="'Liberation Sans', sans-serif" font-weight="normal" font-size="14.200" textLength="31.423" lengthAdjust="spacingAndGlyphs">1104</text>
<text x="352.830" y="231.750" font-family="'Liberation Sans', sans-serif" font-weight="normal" font-size="14.200" textLength="31.687" lengthAdjust="spacingAndGlyphs">1105</text>
<text x="362.100" y="254.600" font-family="'Liberation Sans', sans-serif" font-weight="normal" font-size="14.200" textLength="31.425" lengthAdjust="spacingAndGlyphs">1106</text>
<text x="371.120" y="277.450" font-family="'Liberation Sans', sans-serif" font-weight="normal" font-size="14.200" textLength="31.691" lengthAdjust="spacingAndGlyphs">1107</text>
<text x="380.390" y="300.300" font-family="'Liberation Sans', sans-serif" font-weight="normal" font-size="14.200" textLength="31.425" lengthAdjust="spacingAndGlyphs">1108</text>
<text x="389.410" y="323.150" font-family="'Liberation Sans', sans-serif" font-weight="normal" font-size="14.200" textLength="31.689" lengthAdjust="spacingAndGlyphs">1109</text>
<text x="398.430" y="346.000" font-family="'Liberation Sans', sans-serif" font-weight="normal" font-size="14.200" textLength="31.689" lengthAdjust="spacingAndGlyphs">1110</text>
<text x="408.200" y="368.850" font-family="'Liberation Sans', sans-serif" font-weight="normal" font-size="14.200" textLength="29.985" lengthAdjust="spacingAndGlyphs">1111</text>
<text x="416.720" y="391.700" font-family="'Liberation Sans', sans-serif" font-weight="normal" font-size="14.200" textLength="31.689" lengthAdjust="spacingAndGlyphs">1112</text>
<text x="425.990" y="414.550" font-family="'Liberation Sans', sans-serif" font-weight="normal" font-size="14.200" textLength="31.689" lengthAdjust="spacingAndGlyphs">1113</text>
<text x="435.010" y="437.400" font-family="'Liberation Sans', sans-serif" font-weight="normal" font-size="14.200" textLength="31.421" lengthAdjust="spacingAndGlyphs">1114</text>
<text x="444.280" y="460.250" font-family="'Liberation Sans', sans-serif" font-weight="normal" font-size="14.200" textLength="31.425" lengthAdjust="spacingAndGlyphs">1115</text>
<text x="453.300" y="483.100" font-family="'Liberation Sans', sans-serif" font-weight="normal" font-size="14.200" textLength="31.689" lengthAdjust="spacingAndGlyphs">1116</text>
<text x="462.320" y="505.950" font-family="'Liberation Sans', sans-serif" font-weight="normal" font-size="14.200" textLength="31.965" lengthAdjust="spacingAndGlyphs">1117</text>
<text x="471.590" y="528.800" font-family="'Liberation Sans', sans-serif" font-weight="normal" font-size="14.200" textLength="31.689" lengthAdjust="spacingAndGlyphs">1118</text>
<text x="480.610" y="551.650" font-family="'Liberation Sans', sans-serif" font-weight="normal" font-size="14.200" textLength="31.696" lengthAdjust="spacingAndGlyphs">1119</text>
<text x="489.880" y="574.500" font-family="'Liberation Sans', sans-serif" font-weight="normal" font-size="14.200" textLength="31.421" lengthAdjust="spacingAndGlyphs">1120</text>
<text x="499.650" y="597.350" font-family="'Liberation Sans', sans-serif" font-weight="normal" font-size="14.200" textLength="29.729" lengthAdjust="spacingAndGlyphs">1121</text>
<text x="508.170" y="620.200" font-family="'Liberation Sans', sans-serif" font-weight="normal" font-size="14.200" textLength="31.689" lengthAdjust="spacingAndGlyphs">1122</text>
<text x="517.190" y="643.050" font-family="'Liberation Sans', sans-serif" font-weight="normal" font-size="14.200" textLength="31.691" lengthAdjust="spacingAndGlyphs">1123</text>
<text x="526.460" y="665.900" font-family="'Liberation Sans', sans-serif" font-weight="normal" font-size="14.200" textLength="31.421" lengthAdjust="spacingAndGlyphs">1124</text>
<text x="634.850" y="151.500" font-family="'Liberation Sans', sans-serif" font-weight="normal" font-size="10.464" textLength="22.316" lengthAdjust="spacingAndGlyphs">(90°)</text>
<text x="634.850" y="443.500" font-family="'Liberation Sans', sans-serif" font-weight="normal" font-size="10.464" textLength="22.316" lengthAdjust="spacingAndGlyphs">(45°)</text>
</svg>
</body></html>
